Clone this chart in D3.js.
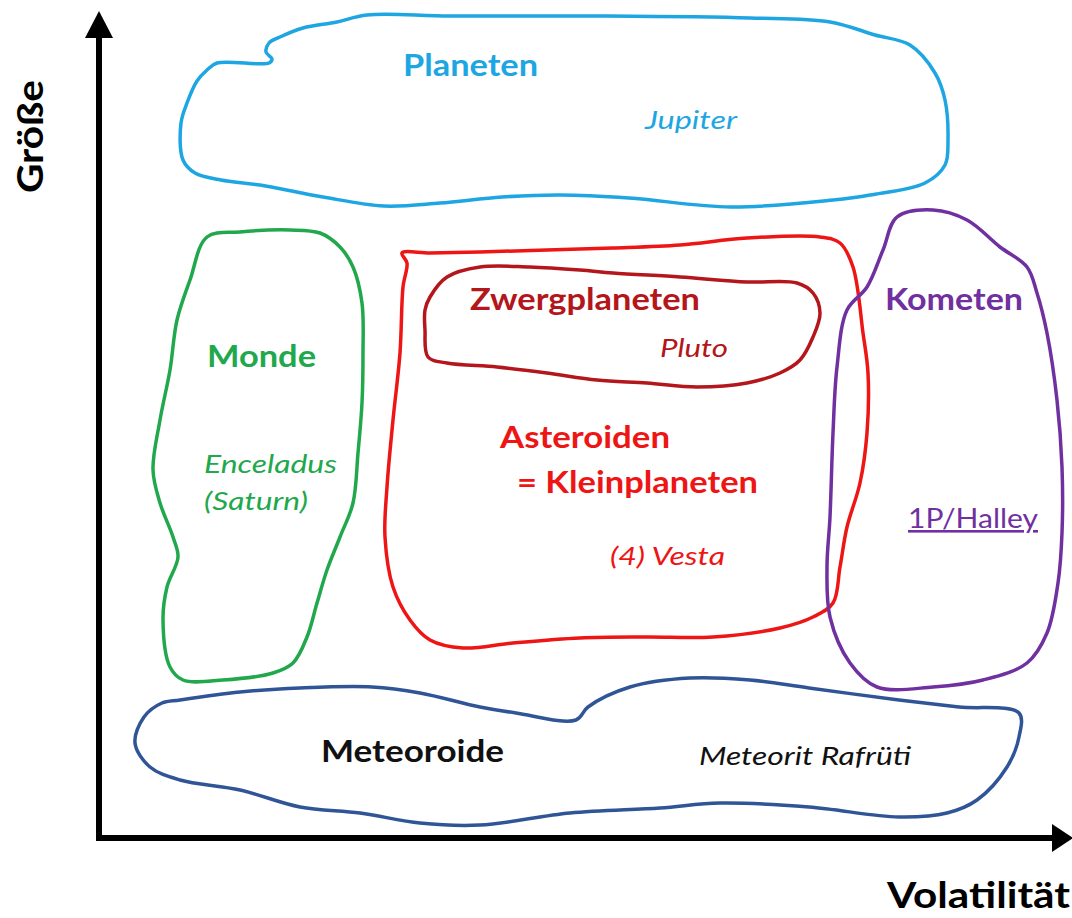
<!DOCTYPE html>
<html><head><meta charset="utf-8">
<script src="https://cdn.jsdelivr.net/npm/d3@7"></script>
<style>
html,body{margin:0;padding:0;background:#fff;}
svg{display:block;}
text{font-family:Lato,"Open Sans",sans-serif;}
</style></head>
<body>
<svg id="chart" width="1072" height="918"></svg>
<script>
// Region outlines in (volatility, size) units
const planeten = [[118,775],[170,775],[173,779],[167,786],[170,795],[181,801],[204,810],[238,816],[268,823],[351,822],[501,822],[651,820],[731,816],[776,803],[811,793],[836,765],[846,738],[849,698],[846,673],[826,655],[771,643],[734,638],[632,631],[530,640],[461,643],[403,641],[341,635],[285,632],[224,641],[161,653],[122,658],[96,665],[84,678],[82,715],[88,735],[98,757],[108,768]];
const monde = [[108,601],[141,606],[191,608],[221,605],[241,591],[254,571],[263,535],[264,485],[263,435],[259,385],[254,335],[241,301],[228,268],[218,235],[208,201],[194,175],[174,165],[124,158],[84,158],[71,171],[64,218],[68,251],[79,281],[74,301],[61,335],[54,368],[61,418],[71,468],[78,518],[91,558]];
const asteroiden = [[303,585],[308,575],[304,551],[301,485],[294,418],[288,351],[286,301],[294,251],[311,218],[331,198],[364,190],[414,195],[481,200],[548,201],[614,201],[681,210],[714,221],[734,235],[741,271],[748,311],[761,355],[768,405],[769,465],[764,505],[754,571],[741,595],[721,601],[648,600],[581,593],[514,590],[448,588],[381,586],[331,585]];
const zwergplaneten = [[331,541],[348,561],[381,571],[431,571],[481,568],[514,565],[581,561],[648,556],[698,555],[714,545],[721,525],[714,501],[701,478],[681,465],[648,455],[598,451],[548,455],[498,458],[448,465],[398,471],[348,475],[329,481],[326,508],[326,528]];
const kometen = [[798,621],[834,628],[868,618],[901,591],[928,571],[938,545],[948,505],[958,438],[963,371],[963,305],[959,255],[948,205],[928,175],[884,158],[834,151],[778,151],[751,175],[731,221],[728,271],[731,321],[734,405],[738,471],[748,528],[768,551],[784,588]];
const meteoroide = [[81,138],[141,146],[201,150],[273,151],[321,145],[381,131],[417,125],[477,118],[489,131],[531,151],[591,160],[651,158],[710,150],[800,138],[860,131],[920,125],[920,101],[908,71],[878,38],[848,25],[800,21],[710,31],[621,35],[561,30],[471,25],[381,13],[321,15],[261,25],[201,31],[141,48],[81,58],[51,71],[36,95],[45,121],[63,135]];

const regionNames = ["Planeten","Monde","Asteroiden","Zwergplaneten","Kometen","Meteoroide"];
const regionShapes = [planeten, monde, asteroiden, zwergplaneten, kometen, meteoroide];
const regionColors = ["#1ea6e2","#22a84c","#ee1515","#b3161b","#7030a0","#2f5597"];

// Labels: text, x, y (data units)
const labelTexts = ["Planeten","Jupiter","Monde","Enceladus","(Saturn)","Zwergplaneten","Pluto","Asteroiden","= Kleinplaneten","(4) Vesta","Kometen","1P/Halley","Meteoroide","Meteorit Rafrüti"];
const labelX = [304,546,108,105,105,371,561,401,418,511,786,809,222,600];
const labelY = [762,709,471,365,328,528,481,390,345,273,528,310,76,73];
const labelKinds = ["title","example","title","example","example","title","example","title","title","example","title","link","title","example"];
const labelColors = ["#1ea6e2","#1ea6e2","#22a84c","#22a84c","#22a84c","#b3161b","#b3161b","#ee1515","#ee1515","#ee1515","#7030a0","#7030a0","#111","#111"];
const labelWidths = [135,92,109,133,104,230,68,170,241,115,138,130,183,212];

const axisTitles = ["Volatilität","Größe"];

const svg = d3.select("#chart");
const x = d3.scaleLinear().domain([0,960]).range([99,1059]);
const y = d3.scaleLinear().domain([0,820]).range([838,18]);

const line = d3.line().x(d=>x(d[0])).y(d=>y(d[1])).curve(d3.curveCatmullRomClosed.alpha(0.5));

svg.append("g").selectAll("path").data(regionShapes).join("path")
  .attr("d", line)
  .attr("fill","none")
  .attr("stroke",(d,i)=>regionColors[i])
  .attr("stroke-width",3.5)
  .attr("stroke-linejoin","round");

// Axes
const ax = svg.append("g");
ax.append("path")
  .attr("d", `M${x(0)},${y(801)} L${x(0)},${y(0)} L${x(954)},${y(0)}`)
  .attr("fill","none").attr("stroke","#000").attr("stroke-width",6)
  .attr("stroke-linejoin","miter");
ax.append("path")
  .attr("d", `M${x(0)},${y(827)} L${x(0)-14},${y(800)} L${x(0)+14},${y(800)} Z`)
  .attr("fill","#000");
ax.append("path")
  .attr("d", `M${x(974)},${y(0)} L${x(953)},${y(0)-14} L${x(953)},${y(0)+14} Z`)
  .attr("fill","#000");

svg.append("text").text(axisTitles[0])
  .attr("x",887).attr("y",908)
  .attr("font-size",36).attr("font-weight","bold").attr("fill","#000")
  .attr("textLength",183).attr("lengthAdjust","spacingAndGlyphs");
svg.append("text").text(axisTitles[1])
  .attr("transform","translate(43,193) rotate(-90)")
  .attr("font-size",36).attr("font-weight","bold").attr("fill","#000")
  .attr("textLength",113).attr("lengthAdjust","spacingAndGlyphs");

// Labels
svg.append("g").selectAll("text").data(labelTexts).join("text")
  .text(d=>d)
  .attr("x",(d,i)=>x(labelX[i]))
  .attr("y",(d,i)=>y(labelY[i]))
  .attr("fill",(d,i)=>labelColors[i])
  .attr("font-weight",(d,i)=>labelKinds[i]==="title"?"bold":"normal")
  .attr("font-style",(d,i)=>labelKinds[i]==="example"?"italic":"normal")
  .attr("font-size",(d,i)=>labelKinds[i]==="title"?30:26)
  .attr("text-decoration",(d,i)=>labelKinds[i]==="link"?"underline":null)
  .attr("textLength",(d,i)=>labelWidths[i])
  .attr("lengthAdjust","spacingAndGlyphs");
</script>
</body></html>
